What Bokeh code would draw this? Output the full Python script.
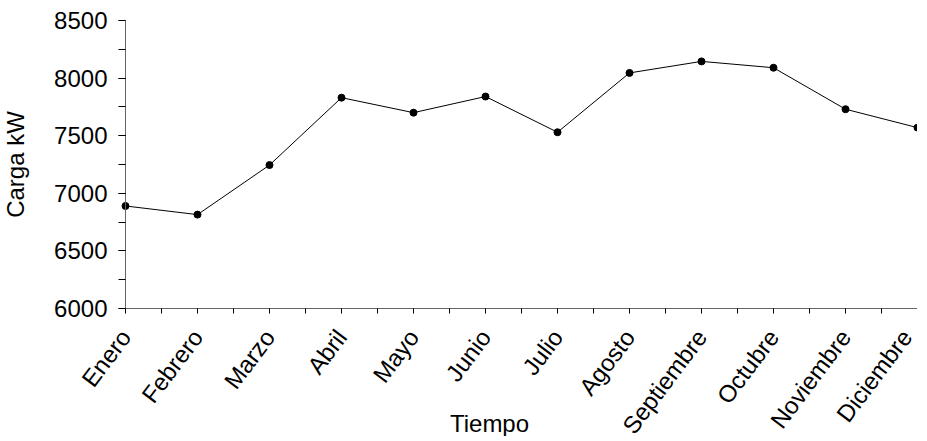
from bokeh.plotting import figure
from bokeh.models import FixedTicker, SingleIntervalTicker, Range1d, Label
from bokeh.embed import file_html
from bokeh.resources import INLINE
import math

months = ["Enero", "Febrero", "Marzo", "Abril", "Mayo", "Junio", "Julio",
          "Agosto", "Septiembre", "Octubre", "Noviembre", "Diciembre"]
carga = [6890, 6815, 7245, 7830, 7700, 7840, 7530, 8045, 8145, 8090, 7730, 7570]
y_label = "Carga kW"
x_label = "Tiempo"
y_min, y_max = 6000, 8500

FONT = "Liberation Sans"
xs = list(range(len(months)))

# ---- layout geometry in page pixels (the whole canvas is the plot frame) ----
W, H = 917, 436
FIG_X, FIG_Y = 2, 1            # where the canvas lands on the page
X0_PX, XR_PX = 127, FIG_X + W   # first category / right edge of the chart
Y_TOP_PX, Y_BOT_PX = 21, 309    # pixel rows of 8500 and 6000
PX_X = (XR_PX - X0_PX) / (len(months) - 1)
PX_Y = (Y_BOT_PX - Y_TOP_PX) / (y_max - y_min)

x_start = -(X0_PX - FIG_X) / PX_X
x_end = x_start + W / PX_X
y_end = y_max + (Y_TOP_PX - FIG_Y) / PX_Y
y_start = y_end - H / PX_Y

p = figure(width=W, height=H, output_backend="svg", toolbar_location=None,
           x_range=Range1d(x_start, x_end), y_range=Range1d(y_start, y_end),
           min_border=0)
p.outline_line_color = None
p.xgrid.visible = False
p.ygrid.visible = False
p.background_fill_color = "white"

p.line(xs, carga, line_color="black", line_width=1)
p.scatter(xs, carga, size=7, fill_color="black", line_color="black")

# x axis sits at y = 6000
xa = p.xaxis[0]
xa.fixed_location = y_min
xa.bounds = (0, len(months) - 1)
xa.ticker = FixedTicker(ticks=xs, minor_ticks=[i + 0.5 for i in xs[:-1]])
xa.major_label_overrides = {i: m for i, m in enumerate(months)}
xa.major_label_orientation = math.radians(53)
xa.major_tick_in = 0
xa.major_tick_out = 5
xa.minor_tick_in = 0
xa.minor_tick_out = 5
xa.major_label_text_font = FONT
xa.major_label_text_font_size = "24px"
xa.major_label_text_color = "black"
xa.major_label_standoff = 19
xa.axis_line_color = "#666666"
xa.major_tick_line_color = "black"
xa.minor_tick_line_color = "black"

# y axis sits at the first category, spanning 6000..8500
ya = p.yaxis[0]
ya.fixed_location = 0
ya.bounds = (y_min, y_max)
ya.ticker = SingleIntervalTicker(interval=500, num_minor_ticks=2)
ya.major_tick_in = 0
ya.major_tick_out = 7
ya.minor_tick_in = 0
ya.minor_tick_out = 7
ya.major_label_text_font = FONT
ya.major_label_text_font_size = "24px"
ya.major_label_text_color = "black"
ya.major_label_standoff = 11
ya.axis_label = y_label
ya.axis_label_text_font = FONT
ya.axis_label_text_font_size = "24px"
ya.axis_label_text_font_style = "normal"
ya.axis_label_text_color = "black"
ya.axis_label_standoff = 22
ya.axis_line_color = "#666666"
ya.major_tick_line_color = "black"
ya.minor_tick_line_color = "black"

# x axis title, placed where the reference shows it (centre x 491)
tx = (491 - X0_PX) / PX_X
ty = y_max - (424 - Y_TOP_PX) / PX_Y
p.add_layout(Label(x=tx, y=ty, text=x_label,
                   text_font=FONT, text_font_size="24px", text_color="black",
                   text_align="center", text_baseline="alphabetic"))

open("out.html", "w").write(file_html(p, INLINE))
